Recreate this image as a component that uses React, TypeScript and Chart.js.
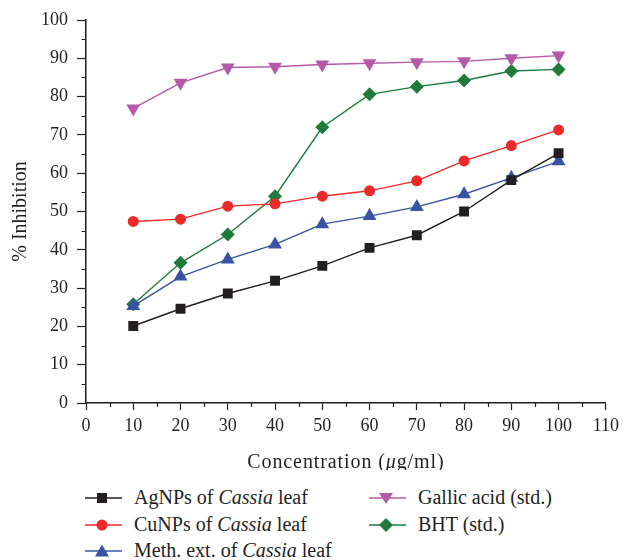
import React, { useEffect, useRef } from "react";
import { Chart, registerables } from "chart.js";

Chart.register(...registerables);

const concentrations = [10, 20, 30, 40, 50, 60, 70, 80, 90, 100];
const agnps = [20.1, 24.6, 28.6, 31.9, 35.8, 40.5, 43.8, 50.0, 58.2, 65.2];
const cunps = [47.4, 48.0, 51.4, 52.0, 54.0, 55.4, 58.0, 63.2, 67.2, 71.3];
const meth = [25.3, 33.0, 37.5, 41.4, 46.7, 48.8, 51.2, 54.5, 58.8, 63.1];
const gallic = [76.9, 83.6, 87.6, 87.8, 88.4, 88.7, 89.0, 89.2, 90.0, 90.7];
const bht = [25.8, 36.6, 44.0, 54.0, 72.0, 80.6, 82.6, 84.2, 86.7, 87.1];

const seriesLabels = [
  ["AgNPs of ", "Cassia", " leaf"],
  ["CuNPs of ", "Cassia", " leaf"],
  ["Meth. ext. of ", "Cassia", " leaf"],
  ["Gallic acid (std.)", "", ""],
  ["BHT (std.)", "", ""],
];
const xTitle = ["Concentration (", "\u03bc", "g/ml)"];
const yTitle = "% Inhibition";

const INK = "#231f20";
const FONT = '"Liberation Serif", "Times New Roman", serif';

const styles = [
  { color: "#231f20", point: "rect", radius: 7, rotation: 0 },
  { color: "#ed2a2a", point: "circle", radius: 5.5, rotation: 0 },
  { color: "#3853a4", point: "triangle", radius: 8, rotation: 0 },
  { color: "#b45aa8", point: "triangle", radius: 8, rotation: 180 },
  { color: "#1f7a3c", point: "rectRot", radius: 7, rotation: 0 },
];

const seriesValues = [agnps, cunps, meth, gallic, bht];

const extrasPlugin = {
  id: "extras",
  afterDraw(chart: any) {
    const { ctx, scales, chartArea } = chart;
    const x = scales.x;
    const y = scales.y;
    ctx.save();
    ctx.strokeStyle = INK;
    ctx.lineWidth = 1.2;
    ctx.beginPath();
    for (let v = 5; v < 110; v += 10) {
      const px = Math.round(x.getPixelForValue(v)) + 0.5;
      ctx.moveTo(px, chartArea.bottom);
      ctx.lineTo(px, chartArea.bottom + 4);
    }
    for (let v = 5; v < 100; v += 10) {
      const py = Math.round(y.getPixelForValue(v)) + 0.5;
      ctx.moveTo(chartArea.left, py);
      ctx.lineTo(chartArea.left - 4.5, py);
    }
    ctx.stroke();

    // x axis title with italic mu
    const fonts = [`20px ${FONT}`, `italic 20px ${FONT}`, `20px ${FONT}`];
    (ctx as any).letterSpacing = "0.9px";
    let total = 0;
    const widths = xTitle.map((t, i) => {
      ctx.font = fonts[i];
      const w = ctx.measureText(t).width;
      total += w;
      return w;
    });
    let cx = (chartArea.left + chartArea.right) / 2 - total / 2;
    ctx.fillStyle = INK;
    ctx.textBaseline = "alphabetic";
    ctx.textAlign = "left";
    xTitle.forEach((t, i) => {
      ctx.font = fonts[i];
      ctx.fillText(t, cx, 468);
      cx += widths[i];
    });
    ctx.restore();
  },
};

function Marker({ idx }: { idx: number }) {
  const s = styles[idx];
  const c = s.color;
  let shape: any = null;
  if (s.point === "rect") shape = <rect x={12} y={3} width={10} height={10} fill={c} />;
  else if (s.point === "circle") shape = <circle cx={17} cy={8} r={5.5} fill={c} />;
  else if (s.point === "triangle" && s.rotation === 0)
    shape = <polygon points="17,1.5 24,13.5 10,13.5" fill={c} />;
  else if (s.point === "triangle")
    shape = <polygon points="17,14 24,3 10,3" fill={c} />;
  else shape = <polygon points="17,1 24,8 17,15 10,8" fill={c} />;
  return (
    <svg width={37} height={16} style={{ display: "block" }}>
      <line x1={0} y1={8} x2={37} y2={8} stroke={c} strokeWidth={1.6} />
      {shape}
    </svg>
  );
}

const legendPos = [
  { lx: 85, tx: 134, cy: 498 },
  { lx: 85, tx: 134, cy: 525 },
  { lx: 85, tx: 134, cy: 551 },
  { lx: 369, tx: 418, cy: 498 },
  { lx: 369, tx: 418, cy: 525 },
];

export default function App() {
  const ref = useRef<HTMLCanvasElement | null>(null);

  useEffect(() => {
    if (!ref.current) return;
    const chart = new Chart(ref.current, {
      type: "line",
      data: {
        datasets: seriesValues.map((vals, i) => ({
          label: seriesLabels[i].join(""),
          data: concentrations.map((c, j) => ({ x: c, y: vals[j] })),
          borderColor: styles[i].color,
          backgroundColor: styles[i].color,
          borderWidth: 1.4,
          pointStyle: styles[i].point as any,
          pointRadius: styles[i].radius,
          pointRotation: styles[i].rotation,
          pointBorderWidth: 0,
          tension: 0,
        })),
      },
      options: {
        animation: false,
        responsive: false,
        layout: { padding: { top: 20, right: 17, left: 0, bottom: 0 } },
        plugins: {
          legend: { display: false },
          tooltip: { enabled: false },
        },
        scales: {
          x: {
            type: "linear",
            min: 0,
            max: 110,
            afterFit: (s: any) => {
              s.height = 67;
            },
            ticks: {
              stepSize: 10,
              color: INK,
              font: { family: FONT, size: 18 },
              padding: 5,
              maxRotation: 0,
            },
            grid: {
              display: true,
              drawOnChartArea: false,
              drawTicks: true,
              tickLength: 7,
              tickColor: INK,
              tickWidth: 1.2,
            },
            border: { display: true, color: INK, width: 1.5 },
          },
          y: {
            type: "linear",
            min: 0,
            max: 100,
            afterFit: (s: any) => {
              s.width = 86;
            },
            ticks: {
              stepSize: 10,
              color: INK,
              font: { family: FONT, size: 18 },
              padding: 9,
            },
            grid: {
              display: true,
              drawOnChartArea: false,
              drawTicks: true,
              tickLength: 9,
              tickColor: INK,
              tickWidth: 1.2,
            },
            border: { display: true, color: INK, width: 1.5 },
            title: {
              display: true,
              text: yTitle,
              color: INK,
              font: { family: FONT, size: 20 },
              padding: { top: 9, bottom: 0 },
            },
          },
        },
      },
      plugins: [extrasPlugin],
    });
    return () => chart.destroy();
  }, []);

  return (
    <div style={{ position: "absolute", left: 0, top: 0, width: 624, height: 560, background: "#fff", overflow: "hidden" }}>
      <canvas ref={ref} width={624} height={470} style={{ position: "absolute", left: 0, top: 0 }} />
      {seriesLabels.map((lab, i) => {
        const p = legendPos[i];
        return (
          <React.Fragment key={i}>
            <div style={{ position: "absolute", left: p.lx, top: p.cy - 8 }}>
              <Marker idx={i} />
            </div>
            <div
              style={{
                position: "absolute",
                left: p.tx,
                top: p.cy - 13,
                height: 24,
                lineHeight: "24px",
                fontFamily: FONT,
                fontSize: 20,
                color: INK,
                whiteSpace: "nowrap",
              }}
            >
              {lab[0]}
              {lab[1] ? <i>{lab[1]}</i> : null}
              {lab[2]}
            </div>
          </React.Fragment>
        );
      })}
    </div>
  );
}
